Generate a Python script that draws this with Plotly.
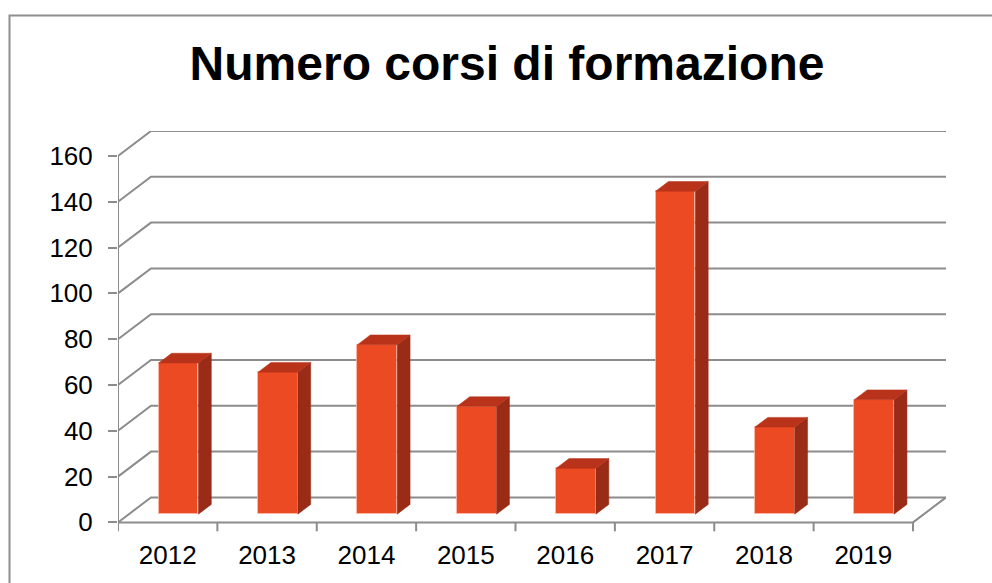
import plotly.graph_objects as go

# ---- data ----
years = ["2012", "2013", "2014", "2015", "2016", "2017", "2018", "2019"]
courses = [66, 62, 74, 47, 20, 141, 38, 50]
y_ticks = [0, 20, 40, 60, 80, 100, 120, 140, 160]
title_text = "Numero corsi di formazione"

# ---- oblique 3D projection settings (in data units) ----
DX = 0.332     # depth shift along x (category units)
DY = 10.9      # depth shift along y (value units)
D0, D1 = 0.33, 0.72   # bar depth span (fraction of floor depth)
BW = 0.40      # bar width
YMAX = y_ticks[-1]

FRONT = "#EC4A22"
SIDE = "#992B17"
TOP = "#B9331B"
GRID = "#8C8C8C"

n = len(years)
xs = list(range(n))
x_left, x_right = -0.5, n - 0.5

def P(x, y, d):
    return x + d * DX, y + d * DY

def path(points):
    return "M " + " L ".join(f"{x},{y}" for x, y in points)

shapes = []
gline = dict(color=GRID, width=2)
# gridlines (left wall + back wall)
for v in y_ticks:
    pts = [P(x_left, v, 0), P(x_left, v, 1), P(x_right, v, 1)]
    shapes.append(dict(type="path", xref="x", yref="y", path=path(pts), line=gline, layer="below"))
# floor front edge and right edge
shapes.append(dict(type="path", xref="x", yref="y",
                   path=path([P(x_left, 0, 0), P(x_right, 0, 0), P(x_right, 0, 1)]),
                   line=gline, layer="below"))
# front vertical axis line
shapes.append(dict(type="line", xref="x", yref="y", x0=x_left, x1=x_left, y0=0, y1=YMAX,
                   line=gline, layer="below"))
# category tick marks on the floor front edge
for k in range(n + 1):
    shapes.append(dict(type="line", xref="x", yref="y", x0=x_left + k, x1=x_left + k,
                       y0=0, y1=-3.9, line=gline, layer="below"))

fig = go.Figure()

# bar front faces
fig.add_trace(go.Bar(x=[c + D0 * DX for c in xs], y=courses, base=D0 * DY,
                     width=BW, marker=dict(color=FRONT,
                                           line=dict(color="rgba(255,190,170,0.7)", width=1)),
                     showlegend=False, hoverinfo="skip"))

# side + top faces
for c, v in zip(xs, courses):
    side = [P(c + BW / 2, 0, D0), P(c + BW / 2, 0, D1),
            P(c + BW / 2, v, D1), P(c + BW / 2, v, D0), P(c + BW / 2, 0, D0)]
    top = [P(c - BW / 2, v, D0), P(c + BW / 2, v, D0),
           P(c + BW / 2, v, D1), P(c - BW / 2, v, D1), P(c - BW / 2, v, D0)]
    for poly, col in [(side, SIDE), (top, TOP)]:
        fig.add_trace(go.Scatter(x=[p[0] for p in poly], y=[p[1] for p in poly],
                                 mode="lines", fill="toself", fillcolor=col,
                                 line=dict(color=col, width=0.5),
                                 hoverinfo="skip", showlegend=False))

W, H = 992, 583
L, R, T, B = 118, 46, 131, 51
pw, ph = W - L - R, H - T - B

def paper_x(px):
    return (px - L) / pw

def paper_y(py):
    return (H - B - py) / ph

shapes.append(dict(type="rect", xref="paper", yref="paper",
                   x0=paper_x(9.5), x1=paper_x(1010), y0=paper_y(600), y1=paper_y(15.5),
                   line=dict(color="#8E8E8E", width=2), fillcolor="rgba(0,0,0,0)", layer="below"))

fig.update_layout(
    width=W, height=H,
    margin=dict(l=L, r=R, t=T, b=B, pad=0),
    paper_bgcolor="white", plot_bgcolor="white",
    font=dict(family="Arial, Liberation Sans, sans-serif", color="black", size=26),
    title=dict(text="<b>" + title_text + "</b>", x=507 / W, xanchor="center",
               y=1 - 63 / H, yanchor="middle",
               font=dict(size=48, family="Arial, Liberation Sans, sans-serif", color="black")),
    bargap=0,
    xaxis=dict(range=[x_left, x_right + DX], tickvals=xs, ticktext=years,
               showgrid=False, zeroline=False, showline=False, ticks="",
               tickfont=dict(size=26), ticklabelstandoff=5, fixedrange=True),
    yaxis=dict(range=[-4.2, YMAX + DY], tickvals=y_ticks,
               showgrid=False, zeroline=False, showline=False,
               ticks="outside", ticklen=9, tickwidth=2, tickcolor=GRID,
               tickfont=dict(size=26), ticklabelstandoff=10, fixedrange=True),
    shapes=shapes,
)

fig.write_html("out.html", config={"displayModeBar": False},
               post_script="document.body.style.margin='0';")
